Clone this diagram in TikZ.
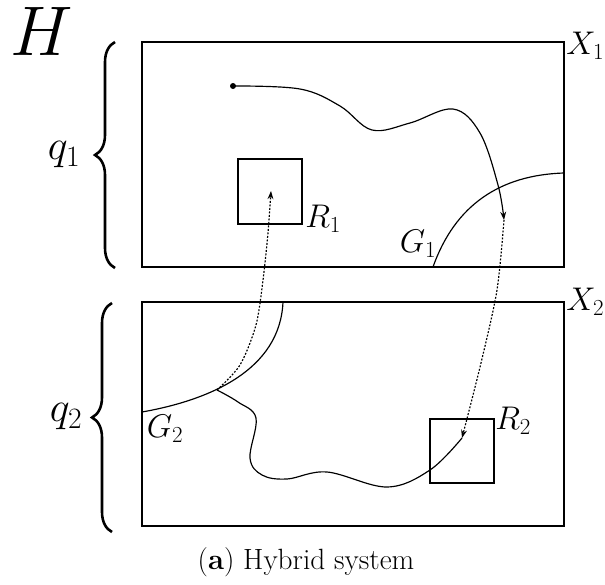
\RequirePackage{fix-cm}
\documentclass[tikz,border=0pt]{standalone}
\usepackage{amsmath}
\usetikzlibrary{arrows.meta, positioning, calc, decorations.pathreplacing}

\begin{document}
\begin{tikzpicture}[x=0.03cm, y=-0.03cm, >={Stealth[length=7pt, width=5pt]}]
        \tikzset{
            modebox/.style={draw, line width=2pt},
            regionbox/.style={draw, line width=2pt},
            flowline/.style={line width=1pt},
            jumpline/.style={line width=1pt, dash pattern=on 1.6pt off 1.4pt},
            guardline/.style={line width=1pt},
            setlabel/.style={font=\fontsize{28}{32}\selectfont, inner sep=1pt},
            modelabel/.style={font=\fontsize{36}{40}\selectfont, inner sep=0pt},
            modebrace/.style={line width=2.2pt, decorate, decoration={brace, amplitude=0.6cm}}
        }
        \useasboundingbox (0,0) rectangle (605,585);

        % modes q1 and q2
        \draw [modebox] (142,42) rectangle (564,267);
        \draw [modebox] (142,302) rectangle (564,526);
        \node [setlabel, anchor=west] (X1) at (565,46) {$X_1$};
        \node [setlabel, anchor=west] (X2) at (565,302) {$X_2$};

        % regions
        \draw [regionbox] (238,159) rectangle (302,224);
        \draw [regionbox] (430,419) rectangle (494,483);
        \node [setlabel, anchor=west] (R1) at (304,219) {$R_1$};
        \node [setlabel, anchor=west] (R2) at (494,421) {$R_2$};

        % guards
        \draw [guardline] (433,267) .. controls (455,205) and (500,175) .. (564,173);
        \draw [guardline] (142,412) .. controls (210,400) and (280,370) .. (283,302);
        \node [setlabel] (G1) at (418,244) {$G_1$};
        \node [setlabel] (G2) at (165,429) {$G_2$};

        % braces and mode names
        \coordinate (b1top) at (115,42);
        \coordinate (b1bot) at (115,268);
        \coordinate (b2top) at (112,303);
        \coordinate (b2bot) at (112,532);
        \draw [modebrace] (b1bot) -- (b1top);
        \draw [modebrace] (b2bot) -- (b2top);
        \node [modelabel] (q1) at (64,155) {$q_1$};
        \node [modelabel] (q2) at (66,417) {$q_2$};
        \node [font=\fontsize{60}{72}\selectfont, inner sep=0pt] (H) at (42,31) {$H$};

        % trajectory
        \coordinate (start) at (233,86);
        \coordinate (hit1) at (504,220);
        \coordinate (land2) at (462,438);
        \coordinate (hit2) at (217,390);
        \coordinate (land1) at (271,191);
        \fill (start) circle (3);
        \draw [flowline, ->] plot [smooth, tension=0.6] coordinates {(start) (300,89) (340,106) (372,130) (410,123) (453,109) (480,133) (498,185) (hit1)};
        \draw [jumpline, ->] plot [smooth] coordinates {(hit1) (497,290) (481,363) (land2)};
        \draw [flowline] plot [smooth, tension=0.6] coordinates {(land2) (430,470) (387,487) (327,472) (287,479) (262,475) (250,458) (256,418) (238,402) (hit2)};
        \draw [jumpline, ->] plot [smooth] coordinates {(hit2) (240,365) (256,325) (263,280) (268,233) (land1)};

        \node [font=\fontsize{25}{30}\selectfont] (caption) at (306,562) {(\textbf{a}) Hybrid system};
    \end{tikzpicture}
\end{document}
